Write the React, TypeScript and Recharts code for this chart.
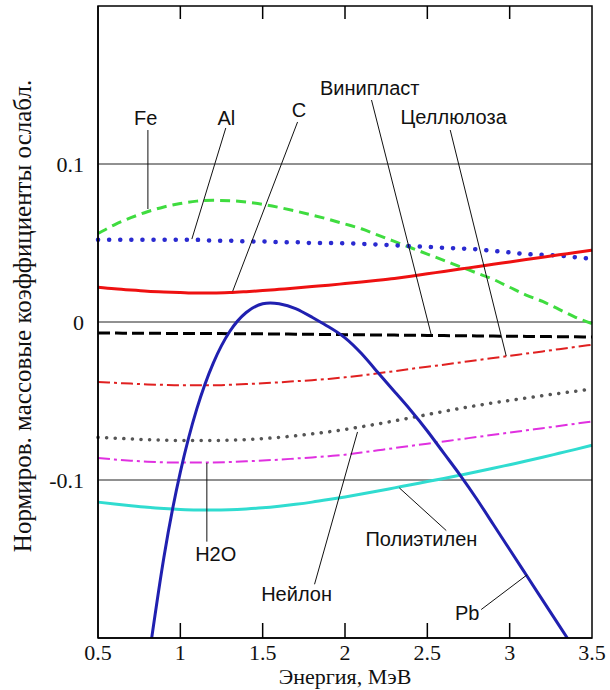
import { Line, LineChart, ReferenceDot, ReferenceLine, XAxis, YAxis } from "recharts"

// энергия, МэВ
const energy = [
  0.5, 0.6, 0.7, 0.8, 0.9, 1.0, 1.1, 1.2, 1.3, 1.4, 1.5, 1.6, 1.7, 1.8, 1.9, 2.0,
  2.1, 2.2, 2.3, 2.4, 2.5, 2.6, 2.7, 2.8, 2.9, 3.0, 3.1, 3.2, 3.3, 3.4, 3.5,
]

const fe = [
  0.056, 0.0615, 0.066, 0.0698, 0.0728, 0.075, 0.0765, 0.077, 0.0768, 0.076, 0.0745, 0.0725, 0.0702, 0.0677, 0.065, 0.062,
  0.059, 0.055, 0.051, 0.047, 0.043, 0.039, 0.035, 0.031, 0.027, 0.022, 0.017, 0.013, 0.008, 0.003, -0.001,
]
const al = [
  0.052, 0.052, 0.052, 0.052, 0.052, 0.052, 0.052, 0.0515, 0.0515, 0.051, 0.051, 0.0505, 0.0505, 0.05, 0.05, 0.0498,
  0.0495, 0.049, 0.0485, 0.048, 0.0475, 0.047, 0.0465, 0.046, 0.045, 0.044, 0.043, 0.0425, 0.042, 0.041, 0.04,
]
const carbon = [
  0.022, 0.021, 0.0202, 0.0195, 0.019, 0.0186, 0.0183, 0.0183, 0.0186, 0.0192, 0.0199, 0.0207, 0.0215, 0.0224, 0.0233, 0.0243,
  0.0253, 0.0264, 0.0276, 0.029, 0.0305, 0.032, 0.0335, 0.035, 0.0365, 0.038, 0.0395, 0.041, 0.0425, 0.044, 0.0455,
]
const vinyl = [
  -0.007, -0.007, -0.0071, -0.0071, -0.0072, -0.0072, -0.0073, -0.0073, -0.0074, -0.0074, -0.0075, -0.0076, -0.0077, -0.0078, -0.0079, -0.008,
  -0.0081, -0.0082, -0.0083, -0.0084, -0.0085, -0.0086, -0.0087, -0.0088, -0.0089, -0.009, -0.0091, -0.0092, -0.0093, -0.0094, -0.0095,
]
const cellulose = [
  -0.038, -0.0385, -0.039, -0.0395, -0.0398, -0.04, -0.04, -0.04, -0.0397, -0.0393, -0.0388, -0.0382, -0.0375, -0.0368, -0.036, -0.035,
  -0.0338, -0.0325, -0.0311, -0.0297, -0.0283, -0.027, -0.0256, -0.0242, -0.0228, -0.0214, -0.02, -0.0186, -0.0172, -0.0158, -0.0144,
]
const nylon = [
  -0.073, -0.0735, -0.074, -0.0745, -0.0748, -0.075, -0.075, -0.075, -0.0748, -0.0744, -0.0738, -0.073, -0.072, -0.0708, -0.0695, -0.068,
  -0.0663, -0.0645, -0.0626, -0.0606, -0.0586, -0.0566, -0.0547, -0.0529, -0.0512, -0.0496, -0.0481, -0.0466, -0.0452, -0.0438, -0.0424,
]
const water = [
  -0.086, -0.087, -0.0878, -0.0884, -0.0888, -0.089, -0.089, -0.0889, -0.0886, -0.0882, -0.0877, -0.0871, -0.0864, -0.0857, -0.0849, -0.084,
  -0.0826, -0.0812, -0.0798, -0.0784, -0.077, -0.0756, -0.0742, -0.0728, -0.0714, -0.07, -0.0686, -0.0672, -0.0658, -0.0644, -0.063,
]
const polyethylene = [
  -0.114, -0.1152, -0.1163, -0.1173, -0.1181, -0.1187, -0.119, -0.119, -0.1188, -0.1183, -0.1176, -0.1166, -0.1154, -0.114, -0.1124, -0.1107,
  -0.1089, -0.107, -0.105, -0.103, -0.101, -0.099, -0.0969, -0.0948, -0.0926, -0.0903, -0.088, -0.0856, -0.0831, -0.0806, -0.078,
]
const pb = [
  null, null, null, -0.219, -0.149, -0.095, -0.055, -0.026, -0.006, 0.006, 0.0115, 0.0115, 0.0085, 0.003, -0.003, -0.01,
  -0.02, -0.032, -0.044, -0.056, -0.069, -0.083, -0.097, -0.112, -0.128, -0.144, -0.16, -0.176, -0.192, -0.208, null,
]

const xDomain = [0.5, 3.5]
const xTicks = [0.5, 1, 1.5, 2, 2.5, 3, 3.5]
const innerTicks = [1, 1.5, 2, 2.5, 3]
const yTicks = [0.1, 0, -0.1]

// подписи кривых: [текст, E, значение]; выноски: [E1, v1, E2, v2]
const labels: [string, number, number][] = [
  ["Fe", 0.79, 0.129],
  ["Al", 1.28, 0.129],
  ["C", 1.72, 0.134],
  ["Винипласт", 2.15, 0.148],
  ["Целлюлоза", 2.66, 0.13],
  ["H2O", 1.215, -0.147],
  ["Нейлон", 1.706, -0.172],
  ["Полиэтилен", 2.464, -0.137],
  ["Pb", 2.742, -0.184],
]
const leaders: [number, number, number, number][] = [
  [0.803, 0.1215, 0.803, 0.0715],
  [1.276, 0.1228, 1.07, 0.0525],
  [1.712, 0.1266, 1.318, 0.0195],
  [2.161, 0.1405, 2.524, -0.0082],
  [2.639, 0.1215, 2.979, -0.0215],
  [1.161, -0.0892, 1.161, -0.139],
  [2.076, -0.0696, 1.815, -0.166],
  [2.33, -0.105, 2.615, -0.132],
  [2.827, -0.182, 3.106, -0.16],
]

const data = energy.map((e, i) => ({
  e,
  fe: fe[i],
  al: al[i],
  c: carbon[i],
  vinyl: vinyl[i],
  cellulose: cellulose[i],
  nylon: nylon[i],
  water: water[i],
  poly: polyethylene[i],
  pb: pb[i],
}))

const W = 610
const H = 690
const plot = { left: 98, top: 6, right: 592, bottom: 638 }

const serif = "'Liberation Serif', 'Times New Roman', serif"
const sans = "'Liberation Sans', Arial, sans-serif"

function YTitle(props: any) {
  const vb = props.viewBox
  const cx = vb.x + 22
  const cy = vb.y + vb.height / 2 - 6
  return (
    <text
      x={cx}
      y={cy}
      transform={`rotate(-90, ${cx}, ${cy})`}
      textAnchor="middle"
      dominantBaseline="central"
      fontFamily={serif}
      fontSize={25}
      fill="#111"
    >
      Нормиров. массовые коэффициенты ослабл.
    </text>
  )
}

// рамка и внутренние штрихи оси X поверх графика
function Frame() {
  const px = (t: number) => plot.left + ((t - xDomain[0]) / (xDomain[1] - xDomain[0])) * (plot.right - plot.left)
  return (
    <svg width={W} height={H} style={{ position: "absolute", left: 0, top: 0, pointerEvents: "none" }}>
      <rect
        x={plot.left}
        y={plot.top}
        width={plot.right - plot.left}
        height={plot.bottom - plot.top}
        fill="none"
        stroke="#000"
        strokeWidth={1.5}
      />
      {innerTicks.map(t => (
        <g key={t}>
          <line x1={px(t)} x2={px(t)} y1={plot.bottom} y2={plot.bottom - 15} stroke="#000" strokeWidth={1.5} />
          <line x1={px(t)} x2={px(t)} y1={plot.top} y2={plot.top + 13} stroke="#000" strokeWidth={1.5} />
        </g>
      ))}
    </svg>
  )
}

export default function App() {
  return (
    <div style={{ position: "absolute", left: 0, top: 0, width: W, height: H, background: "#fff" }}>
      <LineChart
        width={W}
        height={H}
        data={data}
        margin={{ top: plot.top, right: W - plot.right, bottom: 0, left: 0 }}
      >
        <XAxis
          dataKey="e"
          type="number"
          domain={xDomain}
          ticks={xTicks}
          height={H - plot.bottom}
          stroke="#000"
          strokeWidth={1.5}
          tickLine={false}
          tickSize={0}
          tickMargin={6}
          tick={{ fill: "#111", fontFamily: serif, fontSize: 22 }}
          tickFormatter={(v: number) => String(v)}
          label={{ value: "Энергия, МэВ", position: "insideBottom", offset: 6, fill: "#111", fontFamily: serif, fontSize: 22 }}
        />
        <YAxis
          domain={[-0.2, 0.2]}
          allowDataOverflow
          ticks={yTicks}
          width={plot.left}
          stroke="#000"
          strokeWidth={1.5}
          tickLine={false}
          tickSize={0}
          tickMargin={14}
          tick={{ fill: "#111", fontFamily: serif, fontSize: 22 }}
          tickFormatter={(v: number) => String(v)}
          label={{ content: YTitle }}
        />

        {yTicks.map(v => (
          <ReferenceLine key={v} y={v} stroke="#222" strokeWidth={1} />
        ))}

        <Line dataKey="fe" type="monotone" stroke="#3fdc3f" strokeWidth={3} strokeDasharray="10 6" dot={false} isAnimationActive={false} />
        <Line dataKey="al" type="monotone" stroke="#2a2ad0" strokeWidth={4.5} strokeDasharray="0.1 11" strokeLinecap="round" dot={false} isAnimationActive={false} />
        <Line dataKey="c" type="monotone" stroke="#ee1111" strokeWidth={3} dot={false} isAnimationActive={false} />
        <Line dataKey="vinyl" type="monotone" stroke="#000" strokeWidth={3} strokeDasharray="12 5" dot={false} isAnimationActive={false} />
        <Line dataKey="cellulose" type="monotone" stroke="#e02020" strokeWidth={2} strokeDasharray="12 4 3 4" dot={false} isAnimationActive={false} />
        <Line dataKey="nylon" type="monotone" stroke="#555" strokeWidth={3.5} strokeDasharray="0.1 8.5" strokeLinecap="round" dot={false} isAnimationActive={false} />
        <Line dataKey="water" type="monotone" stroke="#e030e0" strokeWidth={2} strokeDasharray="12 4 3 4" dot={false} isAnimationActive={false} />
        <Line dataKey="poly" type="monotone" stroke="#30dcd0" strokeWidth={3} dot={false} isAnimationActive={false} />
        <Line dataKey="pb" type="natural" stroke="#2020b0" strokeWidth={3} dot={false} isAnimationActive={false} />

        {leaders.map(([x1, y1, x2, y2], i) => (
          <ReferenceLine
            key={"l" + i}
            segment={[{ x: x1, y: y1 }, { x: x2, y: y2 }]}
            stroke="#111"
            strokeWidth={1}
          />
        ))}
        {labels.map(([text, x, y]) => (
          <ReferenceDot
            key={text}
            x={x}
            y={y}
            r={0}
            fill="none"
            stroke="none"
            label={{ value: text, position: "center", fill: "#111", fontFamily: sans, fontSize: 20 }}
          />
        ))}
      </LineChart>
      <Frame />
    </div>
  )
}
